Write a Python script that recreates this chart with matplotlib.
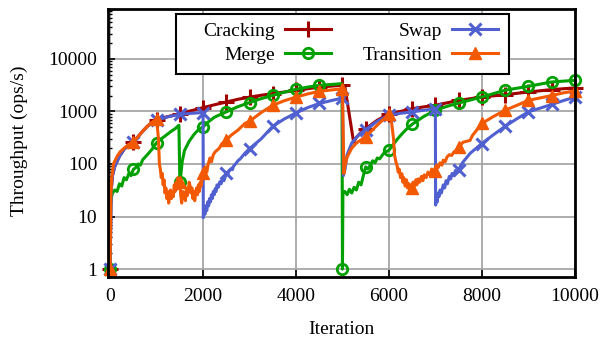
import numpy as np
import matplotlib
matplotlib.use("Agg")
import matplotlib.pyplot as plt
from matplotlib.ticker import LogLocator, NullFormatter, FixedLocator
from matplotlib.patches import Rectangle

plt.rcParams['font.family'] = ['Liberation Serif', 'DejaVu Serif']
plt.rcParams['font.size'] = 14

# ---------------- data ----------------
crack_x = [0, 20, 50, 100, 200, 300, 400, 500, 600, 700, 800, 900, 1000, 1100, 1200, 1300, 1400,
           1500, 1600, 1700, 1800, 1900, 2000, 2250, 2500, 2750, 3000, 3250, 3500, 3750, 4000,
           4250, 4500, 4750, 5000, 5050, 5240, 5300, 5400, 5500, 5750, 6000, 6250, 6500, 6750,
           7000, 7500, 8000, 8500, 9000, 9500, 10000]
crack_y = [1, 30, 60, 90, 140, 190, 230, 263, 330, 420, 520, 620, 700, 740, 780, 820, 860,
           890, 950, 1010, 1060, 1120, 1180, 1340, 1510, 1700, 1870, 2030, 2180, 2340, 2500,
           2700, 2900, 3020, 3150, 3050, 260, 320, 400, 470, 680, 900, 1000, 1125, 1220,
           1310, 1620, 1880, 2080, 2340, 2600, 2800]

merge_x = [0, 10, 50, 100, 150, 200, 250, 300, 350, 400, 450, 500, 550, 600, 650, 700, 800, 900,
           1000, 1100, 1200, 1300, 1400, 1480, 1500, 1520, 1550, 1600, 1700, 1800, 1900, 2000,
           2100, 2250, 2500, 2750, 3000, 3250, 3500, 3750, 4000, 4250, 4500, 4750, 4990, 5000,
           5010, 5050, 5100, 5150, 5200, 5250, 5300, 5350, 5400, 5450, 5500, 5550, 5600, 5650,
           5700, 5750, 5800, 5900, 6000, 6100, 6200, 6300, 6400, 6500, 6750, 7000, 7250, 7500,
           8000, 8500, 9000, 9500, 10000]
merge_y = [1, 20, 28, 32, 30, 42, 38, 55, 50, 65, 60, 79, 85, 100, 95, 120, 150, 190,
           255, 300, 350, 410, 470, 545, 45, 60, 110, 180, 270, 360, 450, 505,
           620, 780, 980, 1230, 1475, 1750, 2020, 2320, 2640, 2900, 3130, 3250, 3380, 1,
           27, 30, 26, 33, 28, 36, 32, 45, 40, 60, 88, 80, 95, 115,
           105, 130, 125, 165, 182, 240, 310, 390, 480, 570, 800, 1050, 1250, 1440,
           1880, 2530, 3000, 3630, 3900]

swap_x = [0, 20, 50, 100, 200, 300, 400, 500, 600, 700, 800, 900, 1000, 1250, 1500, 1750, 2000,
          2005, 2020, 2040, 2060, 2080, 2100, 2120, 2140, 2160, 2180, 2200, 2220, 2240, 2260,
          2280, 2300, 2330, 2360, 2390, 2420, 2450, 2500, 2530, 2560, 2600, 2630, 2660, 2700,
          2750, 2800, 2900, 3000, 3250, 3500, 3750, 4000, 4250, 4500, 4750, 5000,
          5020, 5050, 5100, 5200, 5300, 5400, 5500, 5750, 6000, 6250, 6500, 6750, 7000,
          7005, 7020, 7040, 7060, 7080, 7100, 7130, 7170, 7200, 7230, 7260, 7300, 7330, 7360,
          7400, 7430, 7460, 7500, 7550, 7600, 7750, 8000, 8250, 8500, 8750, 9000, 9250, 9500,
          9750, 10000]
swap_y = [1, 30, 60, 90, 140, 190, 230, 263, 330, 420, 520, 600, 680, 790, 880, 920, 950,
          9.5, 14, 11, 16, 13, 19, 16, 22, 19, 26, 22, 30, 26, 34,
          30, 40, 36, 46, 42, 52, 48, 66, 62, 75, 80, 78, 92, 100,
          115, 125, 160, 196, 300, 520, 720, 935, 1180, 1415, 1600, 1800,
          60, 75, 150, 250, 320, 390, 450, 650, 850, 920, 980, 1050, 1125,
          16.5, 22, 19, 28, 24, 32, 28, 40, 35, 48, 42, 58, 52, 66,
          60, 75, 70, 76, 95, 110, 160, 245, 360, 520, 720, 980, 1150, 1355,
          1600, 1870]

trans_x = [0, 10, 30, 70, 150, 215, 300, 400, 500, 600, 716, 800, 900, 1000, 1040, 1060, 1080,
           1100, 1120, 1140, 1160, 1180, 1200, 1220, 1240, 1260, 1280, 1300, 1320, 1340, 1360,
           1380, 1400, 1420, 1440, 1460, 1480, 1500, 1520, 1540, 1560, 1580, 1600, 1620, 1640,
           1660, 1685, 1700, 1720, 1740, 1760, 1780, 1800, 1820, 1840, 1860, 1880, 1900, 1920,
           1940, 1960, 1980, 2000, 2020, 2045, 2080, 2110, 2150, 2180, 2220, 2260, 2350, 2400,
           2500, 2600, 2750, 2900, 3000, 3250, 3500, 3750, 4000, 4250, 4500, 4750, 5000, 5030,
           5050, 5100, 5200, 5300, 5500, 5750, 6000, 6050, 6100, 6120, 6150, 6180, 6200, 6220,
           6250, 6280, 6300, 6320, 6350, 6380, 6400, 6430, 6455, 6480, 6500, 6520, 6550, 6580,
           6600, 6630, 6660, 6700, 6730, 6760, 6800, 6840, 6885, 6920, 6950, 7000, 7030, 7060,
           7100, 7140, 7170, 7210, 7250, 7300, 7350, 7400, 7460, 7500, 7600, 7745, 7800, 8000,
           8250, 8500, 8750, 9000, 9250, 9500, 9750, 10000]
trans_y = [1, 20, 50, 100, 140, 170, 200, 235, 263, 330, 437, 520, 620, 706, 300, 100, 80,
           55, 66, 40, 50, 28, 35, 22, 30, 18, 26, 32, 22, 28, 24,
           40, 30, 45, 33, 55, 40, 46, 25, 18, 30, 22, 28, 20, 35,
           25, 32, 45, 38, 28, 35, 22, 30, 20, 28, 35, 26, 40, 30,
           45, 38, 55, 66, 60, 88, 70, 100, 130, 110, 150, 170, 200, 240,
           285, 350, 440, 590, 650, 950, 1310, 1600, 1870, 2150, 2410, 2550, 2700, 66,
           90, 135, 200, 250, 330, 550, 880, 700, 300, 150, 110, 90, 70, 80,
           55, 65, 45, 55, 38, 50, 35, 42, 32, 40, 35, 45, 38, 50,
           40, 52, 45, 58, 48, 62, 55, 70, 60, 80, 70, 75, 95, 85,
           105, 95, 118, 110, 135, 150, 145, 170, 183, 210, 260, 280, 350, 590,
           800, 1050, 1300, 1620, 1800, 2000, 2250, 2450]

labels = ["Cracking", "Merge", "Swap", "Transition"]
colors = ["#A00000", "#00A000", "#5060D0", "#F25900"]

x_ticks = [0, 2000, 4000, 6000, 8000, 10000]
y_ticks = [1, 10, 100, 1000, 10000]
y_tick_labels = ["1", "10", "100", "1000", "10000"]

# ---------------- plot ----------------
fig = plt.figure(figsize=(6.05, 3.41), dpi=100)
ax = fig.add_axes([0.179, 0.187, 0.771, 0.786])

series = [(crack_x, crack_y), (merge_x, merge_y), (swap_x, swap_y), (trans_x, trans_y)]
styles = [dict(marker='+', ms=11, mew=2.2, mfc=colors[0]),
          dict(marker='o', ms=7.5, mew=2.0, mfc='none'),
          dict(marker='x', ms=9, mew=2.2),
          dict(marker='^', ms=8.5, mew=1.0)]

for (xs, ys), lab, col, st in zip(series, labels, colors, styles):
    xs = np.asarray(xs, float)
    ys = np.asarray(ys, float)
    mask = np.isclose(np.mod(xs, 500), 0)
    ax.plot(xs, ys, color=col, lw=2.2, label=lab, markevery=list(np.where(mask)[0]),
            mec=col, **st, clip_on=False, zorder=3)

ax.set_yscale('log')
ax.set_xlim(-40, 10000)
ax.set_ylim(0.7, 88000)

ax.xaxis.set_major_locator(FixedLocator(x_ticks))
ax.set_xticklabels([str(v) for v in x_ticks])
ax.yaxis.set_major_locator(FixedLocator(y_ticks))
ax.set_yticklabels(y_tick_labels)
ax.yaxis.set_minor_locator(LogLocator(base=10, subs=np.arange(2, 10), numticks=20))
ax.yaxis.set_minor_formatter(NullFormatter())

ax.tick_params(axis='both', which='both', direction='in', top=False, right=False)
ax.tick_params(axis='both', which='major', length=5, width=1.2, pad=8, labelsize=14)
ax.tick_params(axis='y', which='minor', length=3, width=1.0)
ax.tick_params(axis='x', which='minor', bottom=False)

ax.grid(True, which='major', color='#a0a0a0', lw=1.2, zorder=0)
ax.set_axisbelow(True)
for sp in ax.spines.values():
    sp.set_linewidth(2.0)
    sp.set_color('black')
    sp.set_zorder(5)

ax.set_xlabel("Iteration", fontsize=14)
ax.xaxis.set_label_coords(0.5, -0.165)
ax.set_ylabel("Throughput (ops/s)", fontsize=14)
ax.yaxis.set_label_coords(-0.172, 0.51)

# legend frame drawn as a rectangle, entries without frame
frame = Rectangle((0.145, 0.7586), 0.7136, 0.2239, transform=ax.transAxes,
                  facecolor='white', edgecolor='black', lw=1.5, zorder=8, clip_on=False)
ax.add_patch(frame)
leg = ax.legend(loc='center', bbox_to_anchor=(0.520, 0.874), ncol=2, markerfirst=False,
                fontsize=14, frameon=False,
                handlelength=2.4, handletextpad=0.5, columnspacing=1.6, labelspacing=0.3,
                borderpad=0.0, borderaxespad=0.0, numpoints=1)
leg.set_zorder(10)

fig.savefig("out.png", dpi=100)
